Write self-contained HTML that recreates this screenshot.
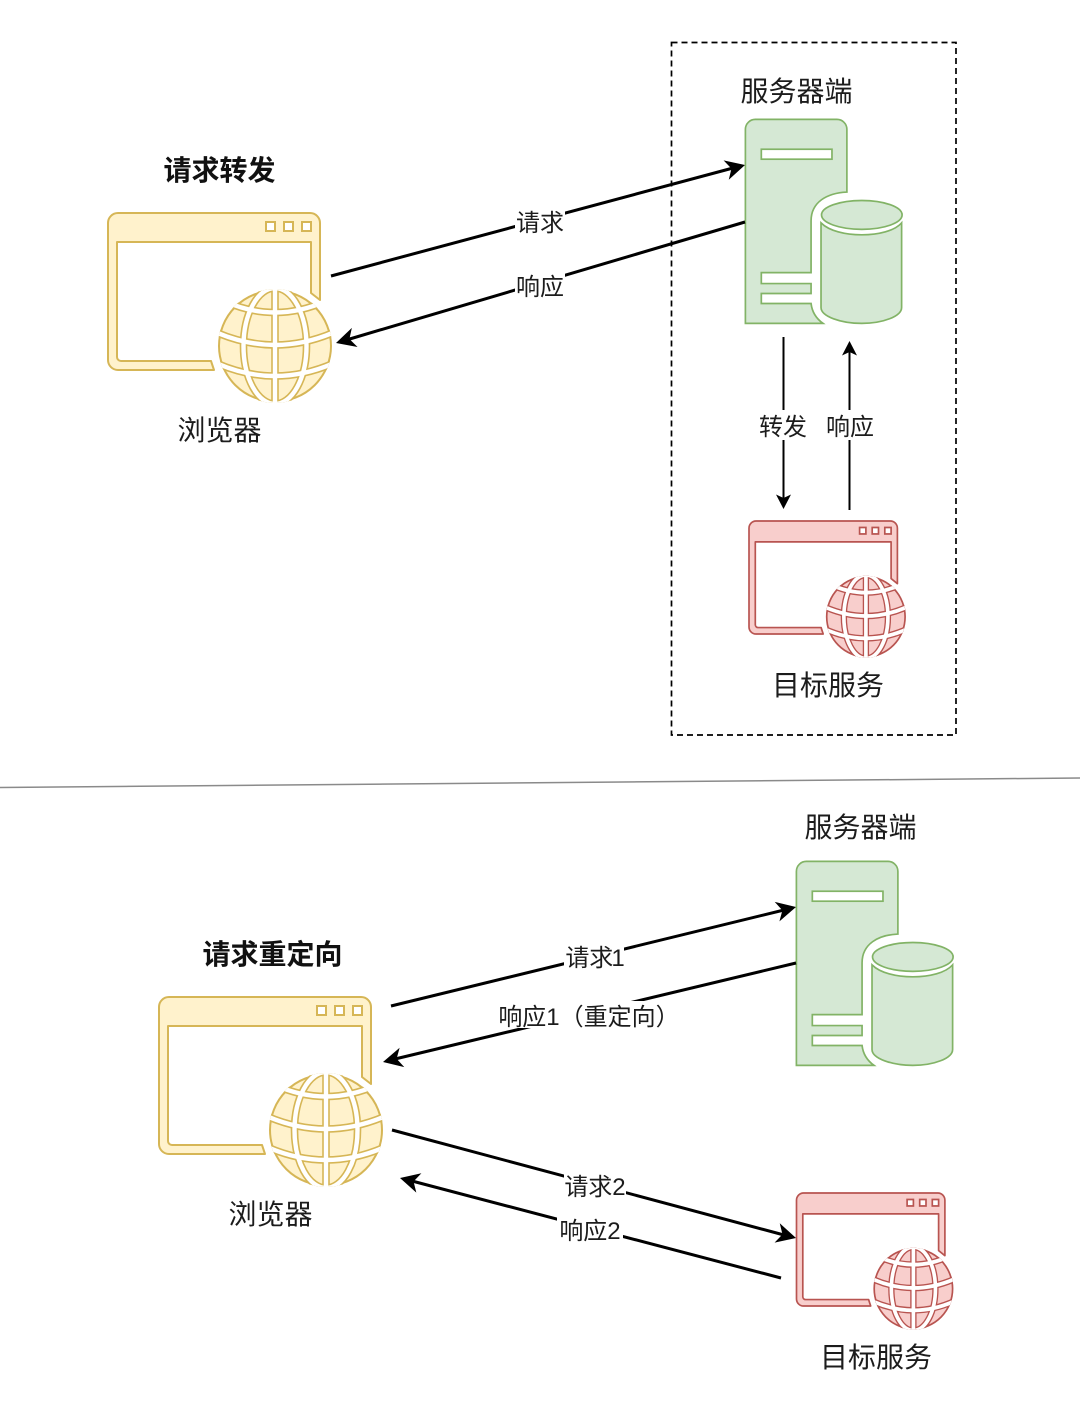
<!DOCTYPE html>
<html><head><meta charset="utf-8">
<style>
html,body{margin:0;padding:0;background:#fff}
svg{display:block;filter:blur(.35px)}
text{font-family:"Liberation Sans","Noto Sans CJK SC",sans-serif;fill:#1c1c1c;text-anchor:middle}
.t{font-size:28px}
.b{font-size:28px;font-weight:bold;fill:#111}
.l{font-size:24px}
.yl{--f:#fff2cc;--s:#d6b656;--sw:2;--w1:7.6;--w2:4.4}
.rd{--f:#f8cecc;--s:#b85450;--sw:2.4;--w1:9;--w2:5.2}
.gr{fill:#d5e8d4;stroke:#82b366;stroke-width:1.7}
</style></head>
<body>
<svg width="1080" height="1406" viewBox="0 0 1080 1406" xmlns="http://www.w3.org/2000/svg">
<defs>
<clipPath id="gc"><circle cx="167" cy="133" r="57"/></clipPath>
<g id="browser">
  <path d="M212 87 V10 a10 10 0 0 0 -10 -10 H10 a10 10 0 0 0 -10 10 V147 a10 10 0 0 0 10 10 H106 L103 148 H13 a4 4 0 0 1 -4 -4 V29 H203 V80 Z" style="fill:var(--f);stroke:var(--s);stroke-width:var(--sw)" stroke-linejoin="round"/>
  <g style="fill:#fff;stroke:var(--s);stroke-width:var(--sw)">
    <rect x="158" y="9" width="9" height="9"/><rect x="176" y="9" width="9" height="9"/><rect x="194" y="9" width="9" height="9"/>
  </g>
  <ellipse cx="167" cy="133" rx="56" ry="55.5" style="fill:var(--f);stroke:var(--s);stroke-width:var(--sw)"/>
  <g clip-path="url(#gc)" fill="none" style="stroke:var(--s);stroke-width:var(--w1)">
    <path d="M167 70V196"/>
    <ellipse cx="167" cy="133" rx="31.5" ry="58"/>
    <path d="M116 88Q167 111 218 88"/>
    <path d="M105 118Q167 146 229 118"/>
    <path d="M108 150Q167 176 226 150"/>
  </g>
  <g clip-path="url(#gc)" fill="none" stroke="#fff" style="stroke-width:var(--w2)">
    <path d="M167 70V196"/>
    <ellipse cx="167" cy="133" rx="31.5" ry="58"/>
    <path d="M116 88Q167 111 218 88"/>
    <path d="M105 118Q167 146 229 118"/>
    <path d="M108 150Q167 176 226 150"/>
  </g>
</g>
<g id="server">
  <path class="gr" d="M0 205 V10 a10 10 0 0 1 10 -10 H92 a10 10 0 0 1 10 10 V73 C82 74 66 83 66 102 V154 H16 V165 H66 V175 H16 V185 H66 C67 194 71 200 78 205 Z"/>
  <rect class="gr" x="16" y="30" width="71" height="10" style="fill:#fff"/>
  <ellipse class="gr" cx="117" cy="96" rx="40.5" ry="14.5"/>
  <path class="gr" d="M76 104 C84 112 100 116 117 116 C134 116 150 112 157 104 V189 C157 198 138 205 117 205 C96 205 76 198 76 189 Z"/>
</g>
</defs>

<rect width="1080" height="1406" fill="#fff"/>

<!-- dashed box -->
<rect x="671.5" y="42.5" width="284.5" height="692.5" fill="none" stroke="#000" stroke-width="1.7" stroke-dasharray="6 4"/>

<!-- divider -->
<line x1="0" y1="787.5" x2="1080" y2="778" stroke="#8a8a8a" stroke-width="1.5"/>

<!-- icons -->
<use href="#browser" class="yl" transform="translate(108,213)"/>
<use href="#browser" class="yl" transform="translate(159,997)"/>
<use href="#browser" class="rd" transform="translate(749,521) scale(.7,.72)"/>
<use href="#browser" class="rd" transform="translate(796.5,1193) scale(.7,.72)"/>
<use href="#server" transform="translate(745.4,119.4) scale(.995)"/>
<use href="#server" transform="translate(796.4,861.4) scale(.995)"/>

<!-- connectors -->
<g stroke="#000" stroke-width="3" fill="none">
  <line x1="331" y1="276" x2="733" y2="168"/>
  <line x1="745" y1="222" x2="348" y2="339.5"/>
  <line x1="391" y1="1006" x2="784" y2="910"/>
  <line x1="796" y1="963" x2="395" y2="1059"/>
  <line x1="392" y1="1130" x2="784" y2="1235"/>
  <line x1="781" y1="1278" x2="412" y2="1181"/>
</g>
<g stroke="#000" stroke-width="2" fill="none">
  <line x1="783.5" y1="337" x2="783.5" y2="498"/>
  <line x1="849.5" y1="510" x2="849.5" y2="352"/>
</g>
<!-- arrowheads -->
<g fill="#000">
  <path transform="translate(745,165) rotate(-15)" d="M0 0L-19.5-10L-14 0L-19.5 10Z"/>
  <path transform="translate(336,343) rotate(163.5)" d="M0 0L-19.5-10L-14 0L-19.5 10Z"/>
  <path transform="translate(796,907) rotate(-13.7)" d="M0 0L-19.5-10L-14 0L-19.5 10Z"/>
  <path transform="translate(383,1062) rotate(166.5)" d="M0 0L-19.5-10L-14 0L-19.5 10Z"/>
  <path transform="translate(796,1238) rotate(15)" d="M0 0L-19.5-10L-14 0L-19.5 10Z"/>
  <path transform="translate(400,1178) rotate(194.7)" d="M0 0L-19.5-10L-14 0L-19.5 10Z"/>
  <path transform="translate(783.5,509) rotate(90)" d="M0 0L-14.5-7.5L-11 0L-14.5 7.5Z"/>
  <path transform="translate(849.5,341) rotate(-90)" d="M0 0L-14.5-7.5L-11 0L-14.5 7.5Z"/>
</g>

<!-- label backgrounds -->
<g fill="#fff">
  <rect x="515" y="208" width="50" height="28"/>
  <rect x="515" y="272" width="50" height="28"/>
  <rect x="758" y="410" width="50" height="30"/>
  <rect x="825" y="410" width="50" height="30"/>
  <rect x="564" y="943" width="60" height="28"/>
  <rect x="497" y="1001" width="175" height="27"/>
  <rect x="564" y="1172" width="62" height="28"/>
  <rect x="557" y="1216" width="66" height="28"/>
</g>

<!-- labels -->
<text class="b" x="219.5" y="180">请求转发</text>
<text class="t" x="219.5" y="440">浏览器</text>
<text class="t" x="796.5" y="101">服务器端</text>
<text class="t" x="828" y="695">目标服务</text>
<text class="b" x="272.5" y="964">请求重定向</text>
<text class="t" x="270.5" y="1224">浏览器</text>
<text class="t" x="860.5" y="837">服务器端</text>
<text class="t" x="876" y="1367">目标服务</text>
<text class="l" x="540" y="231">请求</text>
<text class="l" x="540" y="295">响应</text>
<text class="l" x="783" y="435">转发</text>
<text class="l" x="850" y="435">响应</text>
<text class="l" x="595" y="966">请求<tspan dx="-2">1</tspan></text>
<text class="l" x="589" y="1025">响应1（重定向）</text>
<text class="l" x="595" y="1195">请求2</text>
<text class="l" x="590" y="1239">响应2</text>
</svg>
</body></html>
